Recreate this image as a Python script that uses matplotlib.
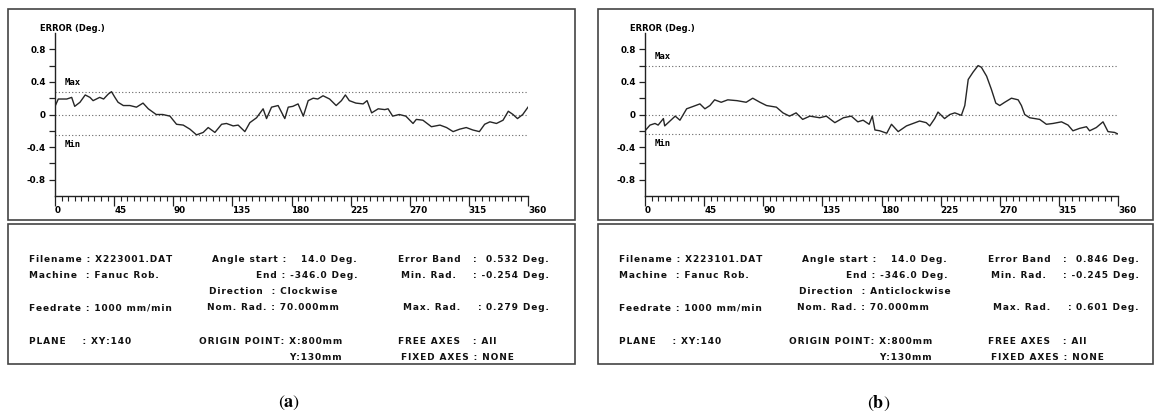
import numpy as np
import matplotlib
matplotlib.use("Agg")
import matplotlib.pyplot as plt
from matplotlib.patches import Rectangle
from matplotlib.ticker import MultipleLocator, FixedLocator

# Error trace (a): clockwise run
ang_a = [0, 2.5, 9, 12.7, 15, 19, 23, 26.6, 29, 34, 37, 40.5, 43, 45.6, 48,
         52, 57, 62, 67, 71, 77, 82, 87.5, 92.5, 97.6, 102.7, 107.7, 112.8,
         116.6, 121.7, 126.8, 130.5, 135.6, 139.4, 144.5, 148.3, 153.4, 158.4,
         161, 164.8, 169.8, 174.9, 177.5, 181, 185, 189, 192.7, 196.5, 200,
         204, 209, 214, 218, 221, 224, 229, 234.5, 237.5, 241, 246, 251, 253.5,
         257, 262, 267, 272.5, 275, 280, 286.5, 293, 298, 303, 308, 313, 318,
         323, 327, 331, 336, 341, 345, 348.6, 352, 356, 360]
err_a = [0.10, 0.19, 0.19, 0.21, 0.10, 0.15, 0.24, 0.21, 0.17, 0.21, 0.19,
         0.25, 0.28, 0.21, 0.15, 0.11, 0.11, 0.09, 0.14, 0.07, 0.00, 0.00,
         -0.02, -0.12, -0.13, -0.18, -0.25, -0.22, -0.16, -0.22, -0.12, -0.11,
         -0.14, -0.13, -0.21, -0.10, -0.04, 0.07, -0.05, 0.09, 0.11, -0.05,
         0.09, 0.10, 0.13, -0.02, 0.17, 0.20, 0.19, 0.23, 0.19, 0.11, 0.17,
         0.24, 0.17, 0.14, 0.13, 0.17, 0.02, 0.07, 0.06, 0.07, -0.02, 0.00,
         -0.02, -0.11, -0.06, -0.07, -0.15, -0.13, -0.16, -0.21, -0.18, -0.16,
         -0.19, -0.21, -0.12, -0.09, -0.11, -0.07, 0.04, 0.00, -0.05, 0.00,
         0.09]

# Error trace (b): anticlockwise run
ang_b = [0, 3.8, 7.6, 10, 14, 15, 19, 23, 26.6, 31.7, 36.8, 41.8, 45.6, 49.4,
         53, 58, 63, 70, 77, 82, 87.5, 92.5, 100, 105, 110, 115, 120, 125.5,
         133, 138, 144.5, 151, 157, 162, 166, 170.6, 173, 175, 178.7, 184,
         187.6, 192.7, 199, 204, 209, 214, 216.7, 220.5, 223, 228, 232, 235.8,
         240.8, 243.4, 246, 249.7, 253.5, 256, 260, 263.6, 267, 270, 273.8,
         278.9, 284, 286.5, 289, 292.8, 300.4, 305.5, 310.5, 317, 322, 325.7,
         330.8, 336, 338.4, 343.5, 348.6, 352.4, 357.4, 360]
err_b = [-0.20, -0.13, -0.11, -0.13, -0.05, -0.14, -0.08, -0.02, -0.07, 0.07,
         0.10, 0.13, 0.07, 0.11, 0.18, 0.15, 0.18, 0.17, 0.15, 0.20, 0.15,
         0.11, 0.09, 0.02, -0.02, 0.02, -0.06, -0.02, -0.04, -0.02, -0.10,
         -0.04, -0.02, -0.09, -0.07, -0.12, -0.02, -0.19, -0.20, -0.23, -0.12,
         -0.21, -0.14, -0.11, -0.08, -0.10, -0.14, -0.05, 0.03, -0.05, 0.00,
         0.02, -0.01, 0.11, 0.43, 0.52, 0.60, 0.58, 0.47, 0.31, 0.14, 0.11,
         0.15, 0.20, 0.18, 0.11, 0.00, -0.04, -0.06, -0.12, -0.11, -0.09,
         -0.13, -0.20, -0.17, -0.15, -0.20, -0.16, -0.09, -0.21, -0.22, -0.24]

# Run summary
filenames = ["X223001.DAT", "X223101.DAT"]
directions = ["Clockwise", "Anticlockwise"]
error_band = [0.532, 0.846]
min_rad = [-0.254, -0.245]
max_rad = [0.279, 0.601]
captions = ["a", "b"]

yticks = [-0.8, -0.4, 0, 0.4, 0.8]
ytick_labels = ["-0.8", "-0.4", "0", "0.4", "0.8"]
xticks = [0, 45, 90, 135, 180, 225, 270, 315, 360]

W, H = 1159, 417
plt.rcParams["mathtext.fontset"] = "stix"
fig = plt.figure(figsize=(W / 100, H / 100), dpi=100)

# pixel-space canvas for frames and the info block
bg = fig.add_axes([0, 0, 1, 1], zorder=0)
bg.set_xlim(0, W)
bg.set_ylim(H, 0)
bg.axis("off")

info_font = dict(family="DejaVu Sans", fontweight="bold", fontsize=6.5,
                 color="#111111", va="center")
tick_font = dict(family="DejaVu Sans", weight="bold", size=6.3)


def spaced(s):
    # printer-style letter spacing with hair spaces
    return "\u200a".join(s)


def txt(x, y, s, ha="left"):
    bg.text(x, y, spaced(s), ha=ha, **info_font)


def panel(i, dx, right, ang, err):
    # frames
    bg.add_patch(Rectangle((8 + dx, 9), right - 8 - dx, 211, fill=False,
                           ec="#444444", lw=1.2))
    bg.add_patch(Rectangle((8 + dx, 224), right - 8 - dx, 140, fill=False,
                           ec="#444444", lw=1.2))

    ax = fig.add_axes([(55 + dx) / W, 1 - 196 / H, 473 / W, 163 / H], zorder=2)
    ax.patch.set_alpha(0)
    ax.set_xlim(0, 360)
    ax.set_ylim(-1.0, 1.0)
    for s in ["top", "right"]:
        ax.spines[s].set_visible(False)
    for s in ["left", "bottom"]:
        ax.spines[s].set_linewidth(1.0)
        ax.spines[s].set_color("#222222")

    ax.xaxis.set_major_locator(FixedLocator(xticks))
    ax.xaxis.set_minor_locator(MultipleLocator(5))
    ax.set_yticks(yticks)
    ax.set_yticklabels(ytick_labels)
    ax.yaxis.set_minor_locator(FixedLocator([-0.6, -0.2, 0.2, 0.6]))
    ax.tick_params(axis="x", which="major", length=7, width=0.9, pad=0.5,
                   color="#222222")
    ax.tick_params(axis="x", which="minor", length=3.5, width=0.8,
                   color="#222222")
    ax.tick_params(axis="y", which="both", length=4, width=0.9, pad=2.5,
                   color="#222222")
    for lab in ax.get_xticklabels():
        lab.set_ha("left")
        lab.set_fontproperties(tick_font)
    for lab in ax.get_yticklabels():
        lab.set_fontproperties(tick_font)

    # max / zero / min reference lines
    for v in [max_rad[i], 0.0, min_rad[i]]:
        ax.axhline(v, color="#666666", lw=0.8, ls=(0, (1, 2)))

    ax.plot(ang, err, color="#262626", lw=1.0)

    ax.text(-0.032, 1.03, "ERROR (Deg.)", transform=ax.transAxes, ha="left",
            va="center", fontsize=6, fontweight="bold", family="DejaVu Sans")
    ax.text(7, max_rad[i] + 0.06, "Max", fontsize=6.5, fontweight="bold",
            family="DejaVu Sans Mono", va="bottom")
    ax.text(7, min_rad[i] - 0.06, "Min", fontsize=6.5, fontweight="bold",
            family="DejaVu Sans Mono", va="top")

    # info block
    txt(29 + dx, 259, "Filename : " + filenames[i])
    txt(29 + dx, 275, "Machine  : Fanuc Rob.")
    txt(29 + dx, 308, "Feedrate : 1000 mm/min")
    txt(29 + dx, 341, "PLANE    : XY:140")

    txt(212 + dx, 259, "Angle start :")
    txt(357 + dx, 259, "14.0 Deg.", ha="right")
    txt(357 + dx, 275, "End : -346.0 Deg.", ha="right")
    txt(209 + dx, 291, "Direction  : " + directions[i])
    txt(207 + dx, 308, "Nom. Rad. : 70.000mm")
    txt(199 + dx, 341, "ORIGIN POINT: X:800mm")
    txt(342 + dx, 357, "Y:130mm", ha="right")

    txt(398 + dx, 259, "Error Band")
    txt(473 + dx, 259, ":")
    txt(549 + dx, 259, f"{error_band[i]:.3f} Deg.", ha="right")
    txt(401 + dx, 275, "Min. Rad.")
    txt(549 + dx, 275, f": {min_rad[i]:.3f} Deg.", ha="right")
    txt(403 + dx, 308, "Max. Rad.")
    txt(478 + dx, 308, ":")
    txt(549 + dx, 308, f"{max_rad[i]:.3f} Deg.", ha="right")
    txt(398 + dx, 341, "FREE AXES   : All")
    txt(401 + dx, 357, "FIXED AXES : NONE")

    bg.text(289 + dx, 403, r"$(\mathbf{" + captions[i] + r"})$", ha="center",
            va="center", fontsize=13)


panel(0, 0, 575, ang_a, err_a)
panel(1, 590, 1153, ang_b, err_b)

fig.savefig("out.png", dpi=100, facecolor="white")
